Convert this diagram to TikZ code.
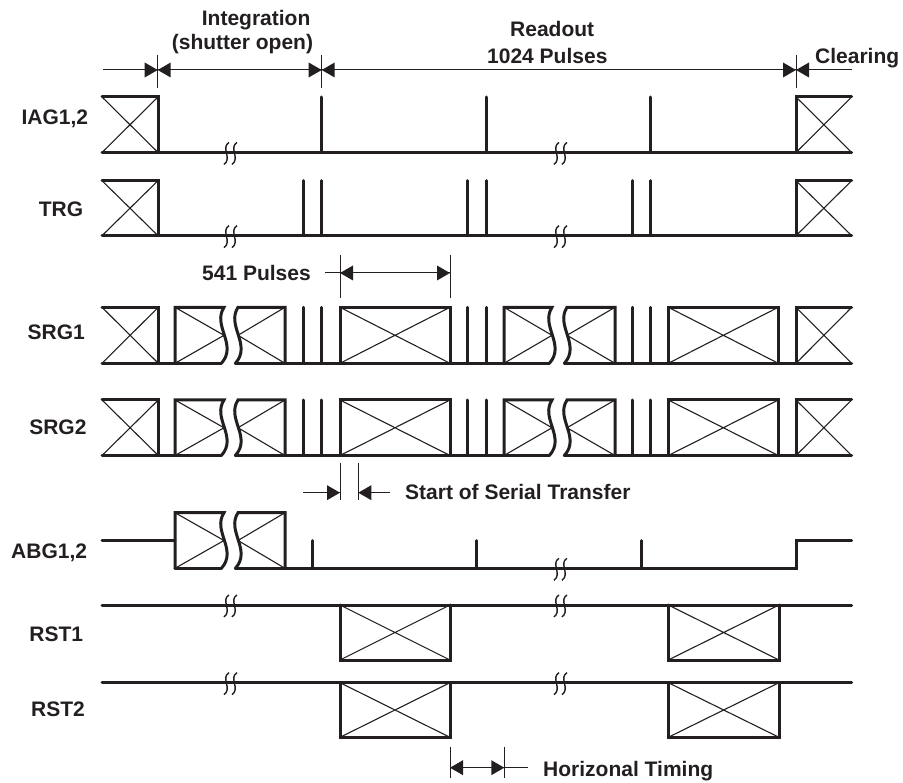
\documentclass[tikz,border=0pt]{standalone}
\usepackage{fontspec}
\setmainfont{Liberation Sans}
\definecolor{ink}{HTML}{231F20}
\tikzset{
  sig/.style={draw=ink, line width=3pt, line cap=round, line join=miter},
  thinx/.style={draw=ink, line width=1.1pt},
  dimln/.style={draw=ink, line width=1pt},
  brkmark/.style={draw=ink, line width=1.4pt},
  lbl/.style={font=\bfseries\fontsize{21}{25}\selectfont, text=ink, inner sep=0pt},
}
% thin X inside a box
\newcommand\XX[4]{\draw[thinx] (#1,#3) -- (#2,#4) (#1,#4) -- (#2,#3);}
% small break mark on a line
\newcommand\BM[2]{\draw[brkmark] (#1+2.5,#2-10) .. controls (#1-6,#2-5) and (#1+6,#2+6) .. (#1-2.5,#2+12);}
% arrow heads: tip at (#1,#2)
\newcommand\ArR[2]{\fill[ink] (#1,#2) -- (#1-13,#2-7.5) -- (#1-13,#2+7.5) -- cycle;}
\newcommand\ArL[2]{\fill[ink] (#1,#2) -- (#1+13,#2-7.5) -- (#1+13,#2+7.5) -- cycle;}
% broken box: xl xr T B x0L x0R
\newcommand\BB[6]{%
  \draw[sig] (#1,#4) -- (#1,#3) -- (#5,#3) .. controls (#5-12,#3+18.5) and (#5+14,#4-18.5) .. (#5-2.6,#4);
  \draw[sig] (#6-2.6,#4) .. controls (#6+14,#4-18.5) and (#6-12,#3+18.5) .. (#6,#3) -- (#2,#3) -- (#2,#4);
  \draw[thinx] (#1,#3) -- (#5,{(#3+#4)/2}) -- (#1,#4);
  \draw[thinx] (#2,#3) -- (#6,{(#3+#4)/2}) -- (#2,#4);
}
% full box with verticals: xl xr T B
\newcommand\FB[4]{\draw[sig] (#1,#4) -- (#1,#3) -- (#2,#3) -- (#2,#4); \XX{#1}{#2}{#3}{#4}}
\begin{document}
\begin{tikzpicture}[x=1pt,y=-1pt]
\useasboundingbox (0,0) rectangle (903,783);

% ---------- labels ----------
\node[lbl, anchor=base east] (lIAG) at (88.3,124.5) {IAG1,2};
\node[lbl, anchor=base east] (lTRG) at (83.3,216.7) {TRG};
\node[lbl, anchor=base east] (lSRG1) at (85,340) {SRG1};
\node[lbl, anchor=base east] (lSRG2) at (86.7,435) {SRG2};
\node[lbl, anchor=base east] (lABG) at (87.3,558.3) {ABG1,2};
\node[lbl, anchor=base east] (lRST1) at (83.3,641.7) {RST1};
\node[lbl, anchor=base east] (lRST2) at (85,716.7) {RST2};

\node[lbl, anchor=base west] (tInt) at (201.7,26) {Integration};
\node[lbl, anchor=base west] (tShut) at (171.7,49.3) {(shutter open)};
\node[lbl, anchor=base west] (tRead) at (510,36.7) {Readout};
\node[lbl, anchor=base west] (tPul) at (487,63.3) {1024 Pulses};
\node[lbl, anchor=base west] (tClr) at (815,63.3) {Clearing};
\node[lbl, anchor=base west] (t541) at (202,281) {541 Pulses};
\node[lbl, anchor=base west] (tSST) at (405,500) {Start of Serial Transfer};
\node[lbl, anchor=base west] (tHT) at (543,776.7) {Horizonal Timing};

% ---------- top dimension line ----------
\draw[dimln] (103,70) -- (851.7,70);
\foreach \x in {157.7,321.7,796}{
  \draw[dimln] (\x,55) -- (\x,88);
  \ArR{\x}{70}
  \ArL{\x}{70}
}

% ---------- IAG1,2 ----------
\draw[sig] (102,97) -- (158,97) -- (158,152.5);
\XX{102}{158}{97}{152.5}
\draw[sig] (102,152.5) -- (851.7,152.5);
\foreach \x in {321.7,486,650.7}{\draw[sig] (\x,152.5) -- (\x,97);}
\draw[sig] (851.7,97) -- (796,97) -- (796,152.5);
\XX{796}{851.7}{97}{152.5}
\foreach \x in {226.5,234.5,556.5,564.5}{\BM{\x}{152.5}}

% ---------- TRG ----------
\draw[sig] (102,180.7) -- (158,180.7) -- (158,235.7);
\XX{102}{158}{180.7}{235.7}
\draw[sig] (102,235.7) -- (851.7,235.7);
\foreach \x in {303.3,321.7,467.7,486,632.3,650.7}{\draw[sig] (\x,235.7) -- (\x,180.7);}
\draw[sig] (851.7,180.7) -- (796,180.7) -- (796,235.7);
\XX{796}{851.7}{180.7}{235.7}
\foreach \x in {226.5,234.5,556.5,564.5}{\BM{\x}{235.7}}

% ---------- 541 Pulses ----------
\draw[dimln] (325,273) -- (450,273);
\draw[dimln] (340,255) -- (340,298);
\draw[dimln] (450,255) -- (450,298);
\ArL{340}{273}
\ArR{450}{273}

% ---------- SRG1 / SRG2 ----------
\foreach \T/\B in {307.3/363.3, 400/455.5}{
  \draw[sig] (102,\B) -- (221.4,\B);
  \draw[sig] (235.4,\B) -- (549.4,\B);
  \draw[sig] (564.4,\B) -- (851.7,\B);
  \draw[sig] (102,\T) -- (158.3,\T) -- (158.3,\B);
  \XX{102}{158.3}{\T}{\B}
  \BB{175}{285}{\T}{\B}{224}{238}
  \foreach \x in {303.3,321.7,467.7,486,632.3,650.7}{\draw[sig] (\x,\B) -- (\x,\T);}
  \FB{340}{450}{\T}{\B}
  \BB{504}{615}{\T}{\B}{552}{567}
  \FB{668.3}{778.3}{\T}{\B}
  \draw[sig] (851.7,\T) -- (796,\T) -- (796,\B);
  \XX{796}{851.7}{\T}{\B}
}

% ---------- Start of Serial Transfer ----------
\draw[dimln] (340,463.3) -- (340,500);
\draw[dimln] (358.3,463.3) -- (358.3,500);
\draw[dimln] (303.3,492.7) -- (340,492.7);
\draw[dimln] (358.3,492.7) -- (390,492.7);
\ArR{340}{492.7}
\ArL{358.3}{492.7}

% ---------- ABG1,2 ----------
\draw[sig] (102,540.7) -- (175,540.7);
\BB{175}{285}{512.7}{568.3}{224}{238}
\draw[sig] (175,568.3) -- (221.4,568.3);
\draw[sig] (235.4,568.3) -- (796.7,568.3) -- (796.7,540.7) -- (851.7,540.7);
\foreach \x in {312.7,476.7,641.7}{\draw[sig] (\x,568.3) -- (\x,540.7);}
\foreach \x in {556.5,564.5}{\BM{\x}{568.3}}

% ---------- RST1 / RST2 ----------
\foreach \T/\B in {605/660, 682.7/737.3}{
  \draw[sig] (102,\T) -- (851.7,\T);
  \draw[sig] (340,\T) -- (340,\B) -- (450,\B) -- (450,\T);
  \XX{340}{450}{\T}{\B}
  \draw[sig] (668.3,\T) -- (668.3,\B) -- (779,\B) -- (779,\T);
  \XX{668.3}{779}{\T}{\B}
  \foreach \x in {226.5,234.5,556.5,564.5}{\BM{\x}{\T}}
}

% ---------- Horizontal timing ----------
\draw[dimln] (450,746.7) -- (450,778);
\draw[dimln] (504.3,746.7) -- (504.3,778);
\draw[dimln] (450,767.7) -- (527.7,767.7);
\ArL{450}{767.7}
\ArR{504.3}{767.7}
\end{tikzpicture}
\end{document}
